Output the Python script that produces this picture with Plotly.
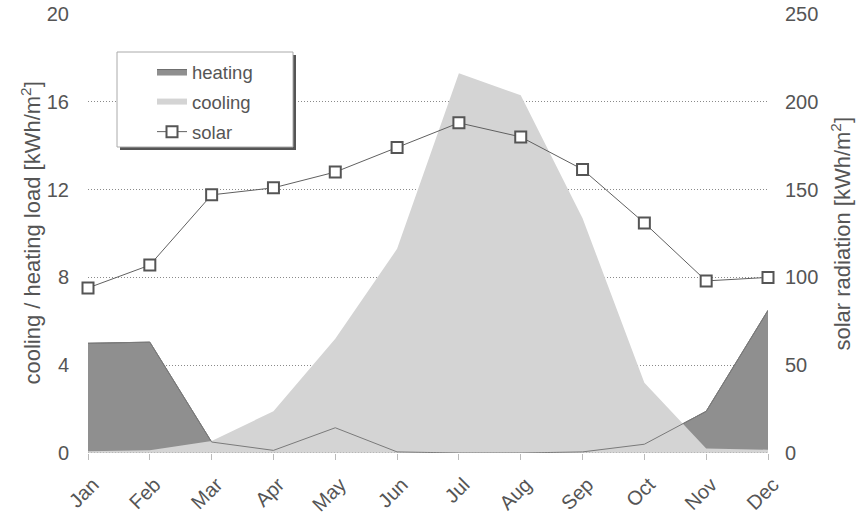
import plotly.graph_objects as go

months = ["Jan", "Feb", "Mar", "Apr", "May", "Jun", "Jul", "Aug", "Sep", "Oct", "Nov", "Dec"]
heating = [5.0, 5.05, 0.5, 0.12, 1.15, 0.05, 0.0, 0.0, 0.05, 0.4, 1.9, 6.5]
cooling = [0.08, 0.12, 0.55, 1.9, 5.2, 9.3, 17.3, 16.3, 10.7, 3.2, 0.2, 0.15]
solar = [94, 107, 147, 151, 160, 174, 188, 180, 161.5, 131, 98, 100]

left_ticks = [0, 4, 8, 12, 16, 20]
right_ticks = [0, 50, 100, 150, 200, 250]

FONT = "Liberation Sans, Arial, sans-serif"
TXT = "#555555"

fig = go.Figure()

fig.add_trace(go.Scatter(
    x=months, y=heating, name="heating", mode="lines",
    line=dict(color="#6e6e6e", width=1), fill="tozeroy", fillcolor="#8f8f8f",
    legendgroup="h", legendrank=1,
))
fig.add_trace(go.Scatter(
    x=months, y=cooling, name="cooling", mode="none",
    fill="tozeroy", fillcolor="#d4d4d4", legendgroup="c", legendrank=2,
))
fig.add_trace(go.Scatter(
    x=months, y=heating, mode="lines", showlegend=False,
    line=dict(color="#7a7a7a", width=1), hoverinfo="skip",
))
fig.add_trace(go.Scatter(
    x=months, y=solar, name="solar", mode="lines+markers", yaxis="y2",
    line=dict(color="#606060", width=1), cliponaxis=False,
    marker=dict(symbol="square", size=11, color="white", line=dict(color="#555555", width=2)),
    legendgroup="s", legendrank=3,
))

L, R, T, B = 88, 768, 14, 453
def px(x):
    return (x - L) / (R - L)
def py(y):
    return (B - y) / (B - T)

shapes = [
    dict(type="line", xref="paper", yref="y", x0=0, x1=1, y0=0, y1=0,
         line=dict(color="#999999", width=1, dash="1px,2px"), layer="above"),
    dict(type="rect", xref="paper", yref="paper", x0=px(120), x1=px(296), y0=py(150), y1=py(55),
         fillcolor="#555555", line=dict(width=0), layer="above"),
    dict(type="rect", xref="paper", yref="paper", x0=px(117), x1=px(293), y0=py(147), y1=py(52),
         fillcolor="white", line=dict(color="#aaaaaa", width=1), layer="above"),
]

fig.update_layout(
    width=861, height=515,
    margin=dict(l=L, r=861 - R, t=T, b=515 - B, autoexpand=False),
    paper_bgcolor="white", plot_bgcolor="white",
    font=dict(family=FONT, size=20, color=TXT),
    showlegend=True,
    legend=dict(x=px(152), y=py(53), xanchor="left", yanchor="top",
                bgcolor="rgba(0,0,0,0)", borderwidth=0,
                font=dict(size=18.5, color=TXT), tracegroupgap=3,
                traceorder="grouped"),
    xaxis=dict(type="category", range=[0, 11], showgrid=False, zeroline=False,
               showline=False, ticks="outside", ticklen=6, tickcolor="#bbbbbb",
               tickangle=-45, tickfont=dict(size=20, color=TXT), automargin=False,
               ticklabelstandoff=5, ticklabelshift=5),
    yaxis=dict(range=[0, 20], tickvals=left_ticks, showgrid=True, gridcolor="#8a8a8a",
               griddash="1px,2px", gridwidth=1, zeroline=False, showline=False,
               ticks="outside", ticklen=14, tickcolor="rgba(0,0,0,0)",
               tickfont=dict(size=20, color=TXT), automargin=False),
    yaxis2=dict(range=[0, 250], tickvals=right_ticks, overlaying="y", side="right",
                showgrid=False, zeroline=False, showline=False,
                ticks="outside", ticklen=12, tickcolor="rgba(0,0,0,0)",
                tickfont=dict(size=20, color=TXT), automargin=False),
    shapes=shapes,
    annotations=[
        dict(text="cooling / heating load [kWh/m<sup>2</sup>]", xref="paper", yref="paper",
             x=px(30), y=0.5, textangle=-90, showarrow=False, xanchor="center", yanchor="middle",
             font=dict(size=22, color=TXT)),
        dict(text="solar radiation [kWh/m<sup>2</sup>]", xref="paper", yref="paper",
             x=px(840), y=0.5, textangle=-90, showarrow=False, xanchor="center", yanchor="middle",
             font=dict(size=22, color=TXT)),
    ],
)

fig.write_html("out.html")
